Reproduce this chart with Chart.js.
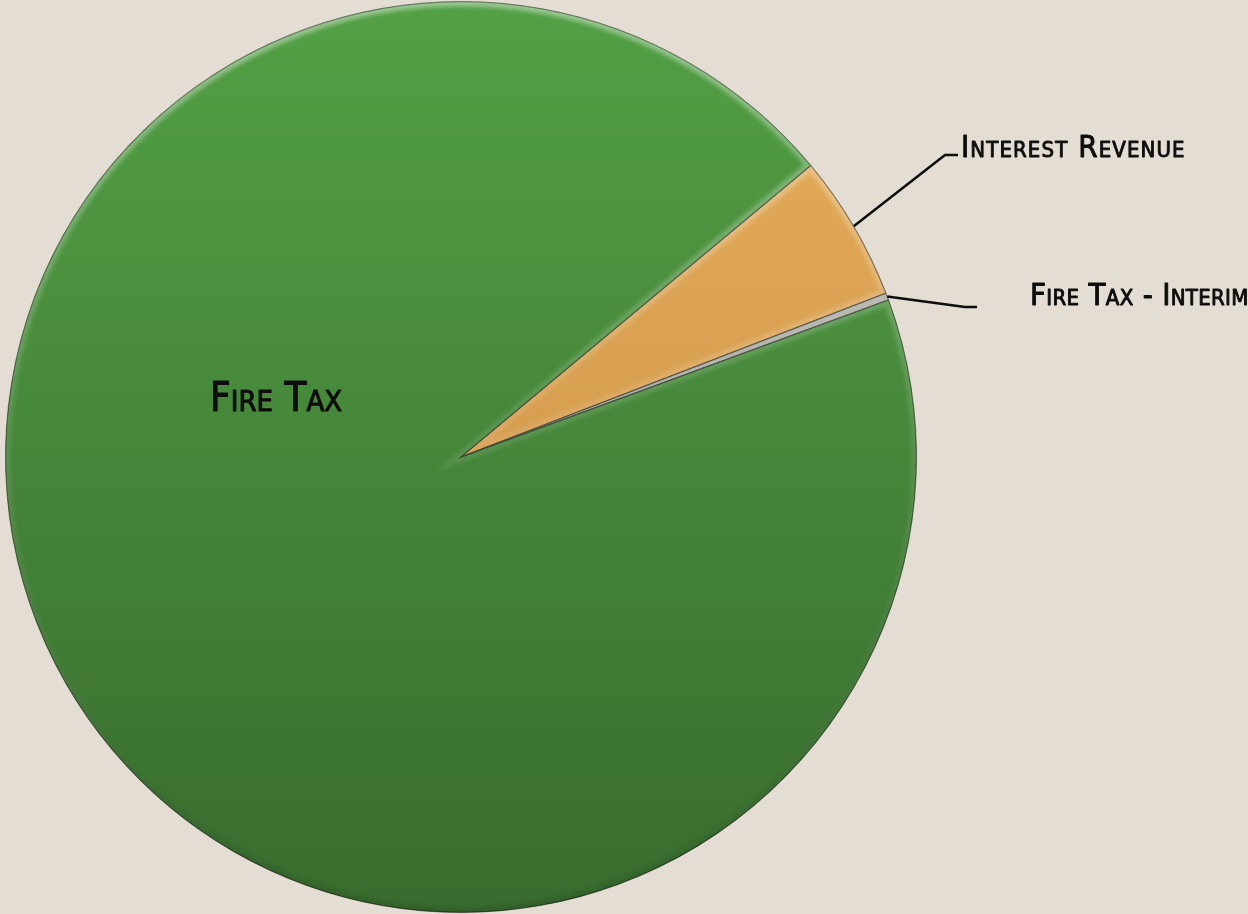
<!DOCTYPE html>
<html>
<head>
<meta charset="utf-8">
<title>Revenue Sources</title>
<script src="https://cdn.jsdelivr.net/npm/chart.js@4.4.1/dist/chart.umd.min.js"></script>
<style>
  html, body { margin: 0; padding: 0; background: #e3ddd3; }
  #wrap { width: 1248px; height: 914px; position: relative; }
</style>
</head>
<body>
<div id="wrap"><canvas id="revenueChart" width="1248" height="914"></canvas></div>
<script>
// revenue share by source (percent)
const categories = ["Interest Revenue", "Fire Tax - Interim", "Fire Tax"];
const shares = [5.2, 0.25, 94.55];

// fill colours, top -> bottom of the pie
const topColors = ["#e6ae5a", "#b2afa8", "#53a045"];
const bottomColors = ["#c68d45", "#9c9a94", "#386c2e"];

const FONT = "'DejaVu Sans Condensed', 'Liberation Sans Narrow', sans-serif";

function sliceGradient(ctx) {
  const chart = ctx.chart;
  const area = chart.chartArea;
  const i = ctx.dataIndex;
  if (!area) return topColors[i];
  const g = chart.ctx.createLinearGradient(0, area.top, 0, area.bottom);
  g.addColorStop(0, topColors[i]);
  g.addColorStop(1, bottomColors[i]);
  return g;
}

// text in small caps: capitals full size, lower case as smaller capitals
function drawSmallCaps(ctx, text, x, y, size, spacing) {
  const small = Math.round(size * 0.72);
  let cx = x;
  for (const ch of text) {
    const isCap = ch !== ch.toLowerCase() || ch === " " || ch === "-";
    ctx.font = (isCap ? size : small) + "px " + FONT;
    const c = ch.toUpperCase();
    ctx.fillText(c, cx, y);
    ctx.strokeText(c, cx, y);
    cx += ctx.measureText(c).width + spacing;
  }
}

// soft bevel along each slice edge: light at the top, shaded at the bottom
const bevelPlugin = {
  id: "bevel",
  afterDatasetsDraw(chart) {
    const ctx = chart.ctx;
    const area = chart.chartArea;
    const meta = chart.getDatasetMeta(0);
    const rim = ctx.createLinearGradient(0, area.top, 0, area.bottom);
    rim.addColorStop(0, "rgba(255,255,255,0.42)");
    rim.addColorStop(0.45, "rgba(255,255,255,0.12)");
    rim.addColorStop(1, "rgba(0,0,0,0.12)");
    meta.data.forEach((arc) => {
      const { x, y, startAngle, endAngle, outerRadius } = arc.getProps(
        ["x", "y", "startAngle", "endAngle", "outerRadius"], true);
      ctx.save();
      ctx.beginPath();
      ctx.moveTo(x, y);
      ctx.arc(x, y, outerRadius, startAngle, endAngle);
      ctx.closePath();
      ctx.clip();
      ctx.filter = "blur(2px)";
      ctx.strokeStyle = rim;
      ctx.lineWidth = 10;
      ctx.stroke();
      ctx.filter = "none";
      ctx.strokeStyle = "rgba(0,0,0,0.3)";
      ctx.lineWidth = 1.5;
      ctx.stroke();
      ctx.restore();
    });
  }
};

// category labels with leader lines
const labelPlugin = {
  id: "sliceLabels",
  afterDatasetsDraw(chart) {
    const ctx = chart.ctx;
    const arcs = chart.getDatasetMeta(0).data;
    ctx.save();
    ctx.fillStyle = "#0d0d0d";
    ctx.strokeStyle = "#0d0d0d";
    ctx.textBaseline = "alphabetic";
    ctx.lineJoin = "round";

    // outside labels: elbow and text start relative to the pie centre
    const outside = [
      { i: 0, elbow: [484, -302], stub: 13, text: [500, -300], size: 31, spacing: 1.1 },
      { i: 1, elbow: [504, -150], stub: 12, text: [569, -152], size: 31, spacing: 0.3 }
    ];
    outside.forEach((o) => {
      const { x, y, startAngle, endAngle, outerRadius } = arcs[o.i].getProps(
        ["x", "y", "startAngle", "endAngle", "outerRadius"], true);
      const mid = (startAngle + endAngle) / 2;
      const px = x + Math.cos(mid) * outerRadius;
      const py = y + Math.sin(mid) * outerRadius;
      const ex = x + o.elbow[0], ey = y + o.elbow[1];
      ctx.lineWidth = 2.5;
      ctx.beginPath();
      ctx.moveTo(px, py);
      ctx.lineTo(ex, ey);
      ctx.lineTo(ex + o.stub, ey);
      ctx.stroke();
      ctx.lineWidth = 0.9;
      drawSmallCaps(ctx, categories[o.i], x + o.text[0], y + o.text[1], o.size, o.spacing);
    });

    // inside label for the large slice
    const big = arcs[2];
    ctx.lineWidth = 1;
    drawSmallCaps(ctx, categories[2], big.x - 251, big.y - 46, 40, 0);
    ctx.restore();
  }
};

new Chart(document.getElementById("revenueChart"), {
  type: "pie",
  data: {
    labels: categories,
    datasets: [{
      data: shares,
      backgroundColor: sliceGradient,
      borderColor: "rgba(40,50,30,0.55)",
      borderWidth: 1
    }]
  },
  options: {
    responsive: false,
    animation: false,
    rotation: 50.2,
    layout: { padding: { left: 5, right: 331, top: 1, bottom: 1 } },
    plugins: {
      legend: { display: false },
      tooltip: { enabled: false }
    }
  },
  plugins: [bevelPlugin, labelPlugin]
});
</script>
</body>
</html>
